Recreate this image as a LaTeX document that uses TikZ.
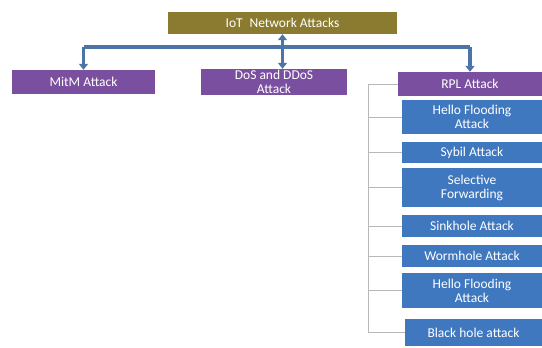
\documentclass[tikz,border=0pt]{standalone}
\usepackage{fontspec}
\setmainfont{Carlito}
\usetikzlibrary{arrows.meta}
\definecolor{olivehead}{HTML}{8B7B30}
\definecolor{purplecat}{HTML}{7B4FA0}
\definecolor{bluerpl}{HTML}{3F78BF}
\definecolor{steellink}{HTML}{4A75A6}
\definecolor{graytree}{HTML}{B8B8B8}
\tikzset{
  boxtext/.style={text=white, inner sep=0pt, align=center,
    font=\fontsize{13.5}{14}\selectfont},
  headbox/.style={boxtext, fill=olivehead, minimum width=229pt, minimum height=22pt},
  catbox/.style={boxtext, fill=purplecat, minimum height=24pt},
  rplbox/.style={boxtext, fill=bluerpl, minimum width=140pt},
  link/.style={steellink, line width=3.5pt},
  tree/.style={graytree, line width=0.6pt}
}

\begin{document}
\begin{tikzpicture}[x=1pt, y=-1pt, >={Triangle[length=6pt, width=9pt]}]
    \useasboundingbox (0,0) rectangle (542,348);

    % Root and first level
    \node[headbox] (root) at (282.5,23) {IoT\enspace Network Attacks};
    \node[catbox, minimum width=143pt] (mitm) at (83.5,82) {MitM Attack};
    \node[catbox, minimum width=146pt, minimum height=26pt] (dos) at (274,82) {DoS and DDoS\\Attack};
    \node[catbox, minimum width=144pt] (rpl) at (470,84) {RPL Attack};

    % RPL attack types
    \node[rplbox, minimum height=34pt] (hello1) at (472,117) {Hello Flooding\\Attack};
    \node[rplbox, minimum height=21pt] (sybil) at (472,152.5) {Sybil Attack};
    \node[rplbox, minimum height=39pt] (selfwd) at (472,187.5) {Selective\\Forwarding};
    \node[rplbox, minimum height=22pt] (sink) at (472,226) {Sinkhole Attack};
    \node[rplbox, minimum height=22pt] (worm) at (472,256) {Wormhole Attack};
    \node[rplbox, minimum height=35pt] (hello2) at (472,290.5) {Hello Flooding\\Attack};
    \node[rplbox, minimum width=137pt, minimum height=27pt] (black) at (473.5,332.5) {Black hole attack};

    % Thick elbow connectors from the root
    \coordinate (bar) at (0,47);
    \draw[link] (mitm.north |- bar) -- (rpl.north |- bar);
    \draw[link, ->] (mitm.north |- bar) -- (mitm.north);
    \draw[link, ->] (rpl.north |- bar) -- (rpl.north);
    \draw[link, <->] (root.south) -- (root.south |- dos.north);

    % Thin tree on the RPL side
    \coordinate (trunk) at (368,84);
    \draw[tree] (trunk) -- (trunk |- black.west);
    \foreach \n in {rpl, hello1, sybil, selfwd, sink, worm, hello2, black}
        \draw[tree] (trunk |- \n.west) -- (\n.west);
\end{tikzpicture}
\end{document}
